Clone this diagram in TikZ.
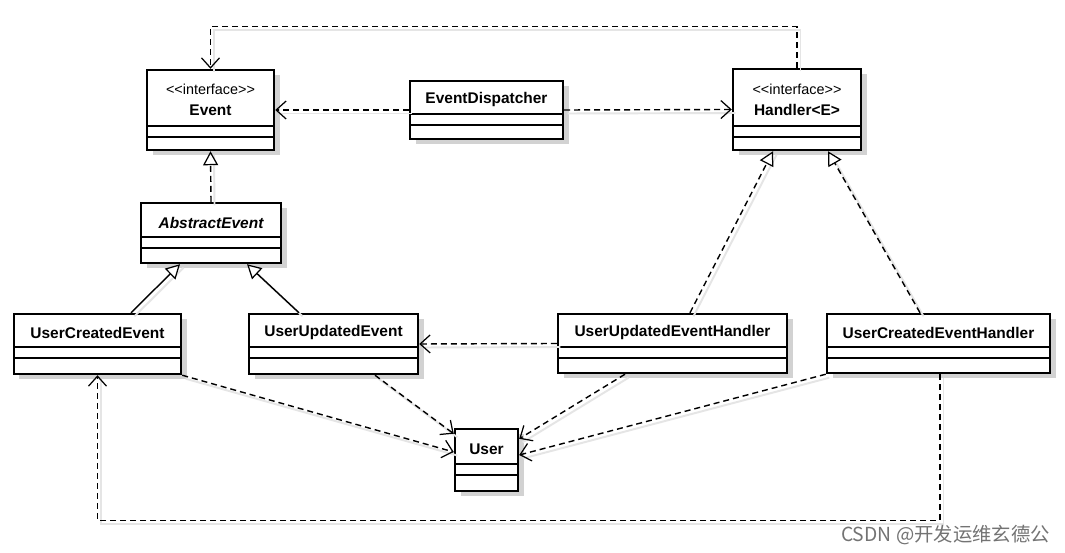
\documentclass[tikz,border=0pt]{standalone}
\usepackage{fontspec}
\setmainfont{Liberation Sans}
\newfontfamily\cjkfont{Noto Sans CJK SC}
\usetikzlibrary{arrows.meta,fit,shadows}
\newcommand\classbox[7]{%
  \node[cbox, fit={(#2,#3) (#4,#5)}] (#1) {};
  \draw[cline] (#2,#6) -- (#4,#6);
  \draw[cline] (#2,#7) -- (#4,#7);
}
\tikzset{
  cbox/.style={draw, line width=1.4pt, fill=white, inner sep=0pt,
    drop shadow={shadow xshift=0.11cm, shadow yshift=-0.11cm, fill=black!25, opacity=0.7}},
  cline/.style={line width=0.75pt},
  cname/.style={font=\fontsize{8.8}{10}\selectfont\bfseries, inner sep=0pt},
  cital/.style={font=\fontsize{8.8}{10}\selectfont\bfseries\itshape, inner sep=0pt},
  stereo/.style={font=\fontsize{8.2}{10}\selectfont, inner sep=0pt},
  lshadow/.style={preaction={draw=black!10, solid, line width=1.1pt, -,
    transform canvas={shift={(0.07cm,-0.07cm)}}}},
  dep/.style={lshadow, line width=0.8pt, dash pattern=on 0.12cm off 0.08cm,
    -{Straight Barb[length=0.2cm,width=0.36cm,line width=0.7pt]}},
  inh/.style={lshadow, line width=0.8pt, -{Triangle[open,length=0.28cm,width=0.3cm,fill=white,line width=0.7pt]}},
  real/.style={inh, dash pattern=on 0.12cm off 0.08cm},
  wm/.style={font=\cjkfont\fontsize{11}{13}\selectfont, text=black!55, inner sep=0pt}
}
\begin{document}
\begin{tikzpicture}[x=0.02cm,y=-0.02cm]
\useasboundingbox[fill=white] (0,0) rectangle (1065,553);

% classes
\classbox{event}{147}{70}{274}{150}{126}{137}
\node[stereo] (eventst) at (210.5,89) {<\kern0pt<interface>\kern0pt>};
\node[cname] (eventnm) at (210.5,110) {Event};

\classbox{disp}{410}{81}{563}{139}{114}{125}
\node[cname] (dispnm) at (486.5,100) {EventDispatcher};

\classbox{handler}{733}{69}{861}{150}{126}{137}
\node[stereo] (handlerst) at (797,89) {<\kern0pt<interface>\kern0pt>};
\node[cname] (handlernm) at (797,110) {Handler<E>};

\classbox{abstract}{141}{203}{281}{263}{237}{248}
\node[cital] (abstractnm) at (211,223) {AbstractEvent};

\classbox{uce}{14}{314}{181}{374}{347}{358}
\node[cname] (ucenm) at (97.5,333) {UserCreatedEvent};

\classbox{uue}{249}{314}{418}{374}{347}{358}
\node[cname] (uuenm) at (333.5,333) {UserUpdatedEvent};

\classbox{uueh}{558}{314}{787}{373}{347}{358}
\node[cname] (uuehnm) at (672.5,333) {UserUpdatedEventHandler};

\classbox{uceh}{827}{314}{1050}{373}{347}{358}
\node[cname] (ucehnm) at (938.5,333) {UserCreatedEventHandler};

\classbox{user}{455}{429}{518}{491}{464}{475}
\node[cname] (usernm) at (486.5,449) {User};

% connectors
\draw[dep] (disp.west) -- (event.east);
\draw[dep] (disp.east) -- (handler.west);
\draw[dep] (handler.north) -- ++(0,-41) -| (event.north);
\draw[real] (abstract.north) -- (event.south);
\draw[inh] ([xshift=0.67cm]uce.north) -- ([xshift=-0.62cm]abstract.south);
\draw[inh] ([xshift=-0.69cm]uue.north) -- ([xshift=0.72cm]abstract.south);
\draw[real] ([xshift=0.35cm]uueh.north) -- ([xshift=-0.48cm]handler.south);
\draw[real] ([xshift=-0.37cm]uceh.north) -- ([xshift=0.62cm]handler.south);
\draw[dep] (uueh.west) -- (uue.east);
\draw[dep] (uce.south east) -- ([yshift=0.16cm]user.west);
\draw[dep] ([xshift=0.83cm]uue.south) -- ([yshift=-0.12cm]user.north west);
\draw[dep] ([xshift=-0.95cm]uueh.south) -- ([yshift=-0.22cm]user.north east);
\draw[dep] (uceh.south west) -- ([yshift=0.1cm]user.east);
\draw[dep] ([xshift=0.03cm]uceh.south) -- ++(0,146) -| (uce.south);

\node[wm, anchor=east] (wm) at (1050,535) {CSDN @开发运维玄德公};
\end{tikzpicture}
\end{document}
